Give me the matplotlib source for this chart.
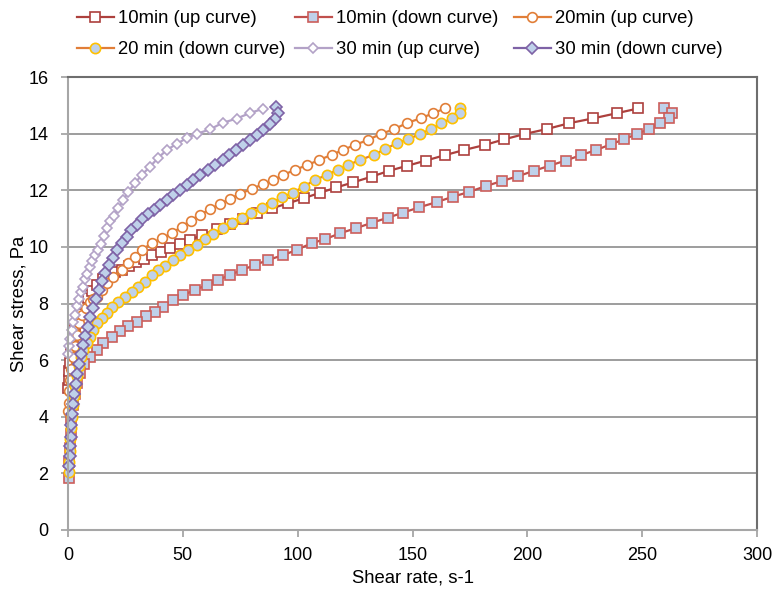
import matplotlib
matplotlib.use('Agg')
import matplotlib.pyplot as plt

plt.rcParams['font.family'] = ['Liberation Sans', 'DejaVu Sans']

# ── DATA (shear rate s-1, shear stress Pa) ───────────────────────────────────
up10_x = [0.1, 0.3, 0.6, 1.0, 1.5, 2.2, 3.1, 4.2, 5.5, 7.0, 8.7, 10.6, 12.8,
          15.2, 17.8, 20.6, 23.5, 26.5, 29.7, 33.1, 36.7, 40.5, 44.5, 48.7,
          53.1, 58.3, 64.7, 70.5, 76.3, 82.4, 88.7, 95.9, 102.7, 109.7, 116.9,
          124.2, 132.2, 139.9, 147.5, 155.9, 164.1, 172.4, 181.5, 190.0, 199.0,
          208.4, 218.3, 228.7, 238.9, 248.3]
up10_y = [5.0, 5.3, 5.6, 5.9, 6.3, 6.7, 7.1, 7.45, 7.75, 8.0, 8.2, 8.45, 8.65,
          8.85, 9.0, 9.1, 9.2, 9.32, 9.45, 9.58, 9.7, 9.83, 9.97, 10.1,
          10.24, 10.42, 10.62, 10.82, 11.0, 11.19, 11.36, 11.54, 11.72, 11.91, 12.10,
          12.28, 12.48, 12.69, 12.86, 13.05, 13.24, 13.42, 13.60, 13.80, 13.99,
          14.16, 14.37, 14.54, 14.72, 14.89]

down10_x = [259.6, 262.8, 261.8, 257.7, 252.9, 247.8, 242.1, 236.3, 229.9, 223.3,
            216.7, 209.8, 203.0, 196.1, 189.1, 182.0, 174.6, 167.5, 160.5, 153.0,
            146.0, 139.2, 132.3, 125.4, 118.4, 111.9, 106.1, 99.5, 93.7, 87.2,
            81.4, 75.6, 70.5, 65.4, 60.4, 55.3, 50.2, 45.8, 41.5, 37.9, 34.0,
            29.9, 26.2, 22.6, 19.0, 15.4, 12.5, 9.6, 7.0, 5.2, 3.9, 2.9, 2.1,
            1.5, 1.1, 0.8, 0.6, 0.5]
down10_y = [14.92, 14.72, 14.54, 14.37, 14.16, 13.99, 13.80, 13.62, 13.42, 13.24,
            13.05, 12.87, 12.69, 12.50, 12.33, 12.15, 11.94, 11.77, 11.58, 11.40,
            11.21, 11.03, 10.85, 10.66, 10.48, 10.27, 10.13, 9.89, 9.71, 9.54,
            9.36, 9.18, 9.01, 8.83, 8.65, 8.48, 8.30, 8.12, 7.89, 7.71, 7.56,
            7.36, 7.21, 7.04, 6.83, 6.60, 6.36, 6.12, 5.85, 5.55, 5.2, 4.8, 4.4,
            3.9, 3.4, 2.9, 2.4, 1.85]

up20_x = [0.1, 0.3, 0.6, 1.0, 1.5, 2.1, 2.9, 3.8, 4.9, 6.2, 7.7, 9.4, 11.0,
          12.5, 14.7, 16.8, 19.7, 23.4, 26.3, 29.2, 32.1, 36.4, 40.8, 45.1,
          49.5, 53.4, 57.5, 61.8, 66.2, 70.5, 74.9, 80.0, 84.8, 89.4, 93.7,
          98.8, 104.2, 109.4, 114.8, 119.6, 124.9, 130.7, 136.5, 141.9, 147.4,
          153.5, 159.0, 164.1]
up20_y = [4.2, 4.5, 4.9, 5.3, 5.7, 6.1, 6.5, 6.9, 7.3, 7.6, 7.85, 8.05, 8.15,
          8.24, 8.48, 8.71, 8.95, 9.18, 9.42, 9.65, 9.89, 10.13, 10.30, 10.48,
          10.71, 10.93, 11.13, 11.33, 11.52, 11.70, 11.87, 12.05, 12.21, 12.36, 12.54,
          12.72, 12.89, 13.07, 13.25, 13.42, 13.60, 13.78, 14.0, 14.15, 14.37,
          14.54, 14.72, 14.89]

down20_x = [170.7, 170.7, 167.3, 162.6, 158.0, 153.2, 148.2, 143.1, 138.0, 133.2,
            127.1, 122.0, 117.4, 112.6, 107.5, 102.7, 97.8, 93.3, 88.7, 84.3,
            79.7, 75.6, 71.3, 67.3, 63.3, 59.6, 56.0, 52.4, 48.8, 45.6, 42.2,
            39.3, 36.4, 33.5, 30.6, 27.7, 24.8, 21.9, 19.0, 16.8, 14.7, 12.5,
            11.0, 9.6, 8.1, 6.7, 5.6, 4.6, 3.8, 3.1, 2.5, 2.0, 1.6, 1.3, 1.0,
            0.8, 0.6, 0.5]
down20_y = [14.92, 14.72, 14.54, 14.37, 14.15, 13.99, 13.80, 13.66, 13.45, 13.25,
            13.07, 12.89, 12.72, 12.54, 12.36, 12.13, 11.91, 11.75, 11.56, 11.36,
            11.19, 11.01, 10.83, 10.66, 10.46, 10.27, 10.07, 9.89, 9.71, 9.54, 9.33,
            9.18, 9.01, 8.77, 8.59, 8.42, 8.24, 8.06, 7.89, 7.65, 7.48, 7.30,
            7.06, 6.83, 6.60, 6.36, 6.1, 5.8, 5.45, 5.1, 4.75, 4.4, 4.0, 3.6, 3.2,
            2.8, 2.4, 2.05]

up30_x = [0.1, 0.4, 0.9, 1.6, 2.3, 3.0, 3.8, 4.6, 5.5, 6.4, 7.3, 8.3, 9.4, 10.6,
          11.8, 13.0, 14.3, 15.7, 17.1, 18.5, 20.0, 21.9, 24.1, 26.3, 29.2,
          32.1, 35.7, 39.3, 43.0, 47.3, 51.7, 56.0, 61.8, 67.3, 73.4, 79.3, 85.0]
up30_y = [6.2, 6.5, 6.75, 7.05, 7.35, 7.6, 7.9, 8.15, 8.4, 8.6, 8.85, 9.05, 9.3, 9.5,
          9.7, 9.9, 10.1, 10.4, 10.65, 10.9, 11.1, 11.36, 11.66, 11.95, 12.25,
          12.54, 12.83, 13.15, 13.42, 13.64, 13.84, 13.99, 14.15, 14.38, 14.53, 14.73, 14.88]

down30_x = [90.5, 91.3, 90.1, 87.9, 85.0, 82.2, 79.2, 76.3, 73.1, 70.2, 67.3, 64.0,
            61.1, 57.5, 54.6, 51.7, 48.8, 45.8, 43.0, 40.1, 37.4, 34.8, 32.3, 29.9,
            27.6, 25.5, 23.4, 21.4, 19.6, 17.9, 16.3, 14.8, 13.4, 12.1, 10.9, 9.7,
            8.5, 7.4, 6.4, 5.5, 4.7, 4.0, 3.4, 2.8, 2.3, 1.9, 1.5, 1.2, 1.0, 0.8, 0.65]
down30_y = [14.95, 14.72, 14.51, 14.34, 14.13, 13.95, 13.78, 13.60, 13.42, 13.25, 13.07, 12.89,
            12.72, 12.54, 12.36, 12.19, 12.01, 11.83, 11.66, 11.48, 11.32, 11.15, 10.97, 10.78,
            10.58, 10.36, 10.13, 9.88, 9.62, 9.35, 9.07, 8.78, 8.47, 8.15, 7.85, 7.52,
            7.18, 6.85, 6.52, 6.2, 5.85, 5.5, 5.15, 4.8, 4.45, 4.1, 3.7, 3.3, 2.95, 2.6, 2.25]

# label, x, y, line colour, marker, face, edge, size
SERIES = [
    ("10min (up curve)",      up10_x,   up10_y,   "#AD403D", "s", "white",   "#AD403D", 7.0),
    ("10min (down curve)",    down10_x, down10_y, "#C0504D", "s", "#BFD1EA", "#CC5E5B", 7.2),
    ("20min (up curve)",      up20_x,   up20_y,   "#E17E38", "o", "white",   "#E17E38", 7.0),
    ("20 min (down curve)",   down20_x, down20_y, "#E17E38", "o", "#BFD1EA", "#FFC000", 7.4),
    ("30 min (up curve)",     up30_x,   up30_y,   "#B3A2C7", "D", "white",   "#B3A2C7", 5.0),
    ("30 min (down curve)",   down30_x, down30_y, "#7E62A6", "D", "#BFD1EA", "#7E62A6", 5.8),
]

# ── PLOT ─────────────────────────────────────────────────────────────────────
fig = plt.figure(figsize=(7.73, 5.92), dpi=100)
ax = fig.add_axes([68 / 773, 1 - 530 / 592, 689 / 773, 453 / 592])

handles = []
for label, xs, ys, lc, mk, fc, ec, ms in SERIES:
    h, = ax.plot(xs, ys, color=lc, lw=1.6, marker=mk, markersize=ms,
                 markerfacecolor=fc, markeredgecolor=ec, markeredgewidth=1.2,
                 label=label, clip_on=False)
    handles.append(h)

ax.set_xlim(0, 300)
ax.set_ylim(0, 16)
ax.set_xticks(range(0, 301, 50))
ax.set_yticks(range(0, 17, 2))
ax.grid(axis='y', color='#8C8C8C', lw=1.2)
ax.set_axisbelow(True)

for side in ('left', 'bottom'):
    ax.spines[side].set_color('#A6A6A6')
    ax.spines[side].set_linewidth(1.5)
for side in ('top', 'right'):
    ax.spines[side].set_color('#6E6E6E')
    ax.spines[side].set_linewidth(1.5)
ax.tick_params(axis='both', labelsize=13, colors='#A6A6A6', labelcolor='black',
               length=5, width=1.3, direction='out')
ax.tick_params(axis='y', pad=9)
ax.tick_params(axis='x', pad=7)

ax.set_xlabel("Shear rate, s-1", fontsize=13.3, labelpad=4)
ax.set_ylabel("Shear stress, Pa", fontsize=13.3, labelpad=1)

# legend laid out row by row: three columns of two entries each
col_left = [77, 295, 514]
for c, x0 in enumerate(col_left):
    pair = [handles[c], handles[c + 3]]
    fig.legend(pair, [h.get_label() for h in pair], loc='upper left',
               bbox_to_anchor=(x0 / 773, 1 - 10 / 592), ncol=1,
               frameon=False, fontsize=13.3, handlelength=2.0,
               handletextpad=0.2, labelspacing=0.78, borderpad=0,
               borderaxespad=0)

plt.savefig("out.png", dpi=100)
plt.close()
